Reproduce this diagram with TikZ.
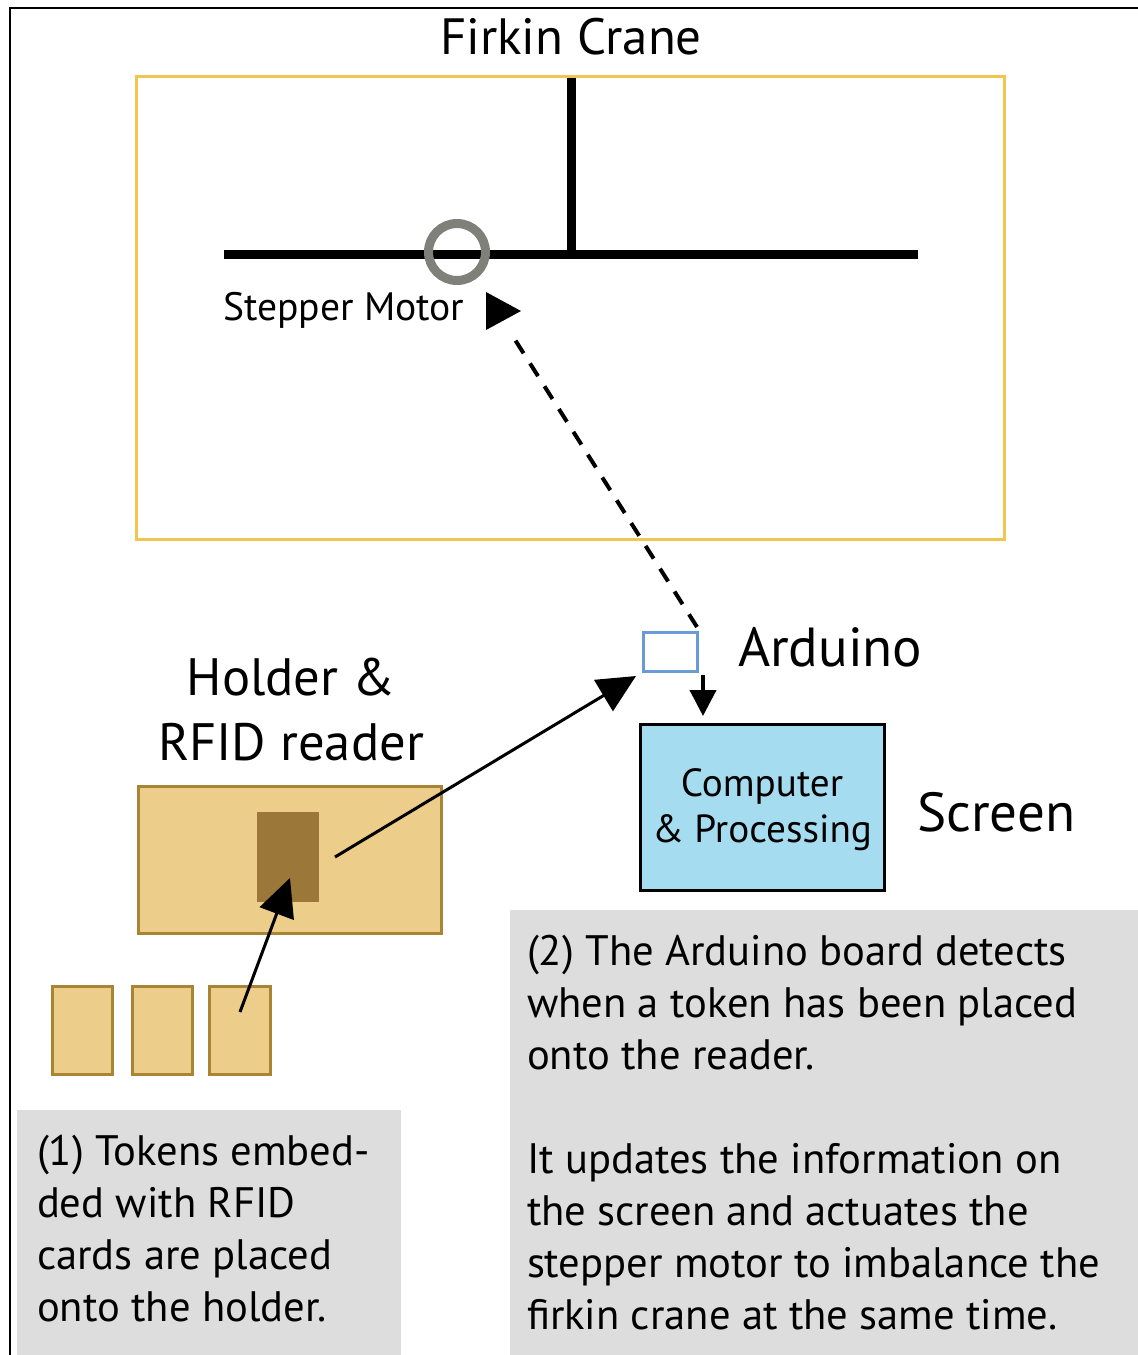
\documentclass[tikz,border=0pt]{standalone}
\usepackage{fontspec}
\setmainfont{PT Sans}
\usetikzlibrary{arrows.meta,fit}
\definecolor{craneyellow}{RGB}{240,198,80}
\definecolor{holderfill}{RGB}{237,205,138}
\definecolor{holderdraw}{RGB}{168,132,52}
\definecolor{readerfill}{RGB}{155,120,58}
\definecolor{ardblue}{RGB}{105,155,215}
\definecolor{compblue}{RGB}{166,220,240}
\definecolor{notegray}{RGB}{221,221,221}
\definecolor{motorgray}{RGB}{128,128,122}
\begin{document}
\begin{tikzpicture}[x=0.5pt,y=-0.5pt,
  plain/.style={inner sep=0pt,outer sep=0pt},
  boxfit/.style={inner sep=0pt,outer sep=0pt},
  bodytext/.style={plain,align=left,font=\fontsize{21.3}{26}\selectfont},
  bigtext/.style={plain,font=\fontsize{27.5}{32.5}\selectfont},
  solidarrow/.style={line width=1.5pt,-{Triangle[length=19pt,width=18pt]}},
  dasharrow/.style={line width=2pt,dash pattern=on 7.5pt off 6pt},
  beam/.style={line width=4.5pt}]
\useasboundingbox (0,0) rectangle (1138,1355);
% outer frame
\draw[line width=1pt] (10,1355) -- (10,8) -- (1138,8);
% title
\node[plain,font=\fontsize{25.5}{30}\selectfont] (title) at (571,37) {Firkin Crane};
% crane frame
\node[boxfit,draw=craneyellow,line width=1.5pt,fit={(136,76)(1004,539)}] (crane) {};
% beams
\draw[beam] (571,78) -- (571,250);
\draw[beam] (224,254) -- (918,254);
\node[circle,draw=motorgray,line width=4.5pt,minimum size=28.5pt,inner sep=0pt] (motor) at (457,252) {};
\node[plain,anchor=west,font=\fontsize{19.8}{22}\selectfont] (smlabel) at (223,310) {Stepper Motor};
% arduino
\node[boxfit,draw=ardblue,line width=1.5pt,fit={(643,632)(697,671)}] (arduino) {};
\node[bigtext,anchor=west] (ardlabel) at (738,647) {Arduino};
% computer
\node[boxfit,draw=black,fill=compblue,line width=1.5pt,fit={(640,724)(884,890)}] (computer) {};
\node[plain,align=center,font=\fontsize{19.6}{23}\selectfont] (comptext) at (762,810) {Computer\\\& Processing};
\node[bigtext,anchor=west] (screen) at (917,812) {Screen};
% holder
\node[plain,align=center,font=\fontsize{26.3}{32.5}\selectfont] (holderlabel) at (291,710) {Holder \&\\RFID reader};
\node[boxfit,draw=holderdraw,fill=holderfill,line width=1.5pt,fit={(138,786)(441,933)}] (holder) {};
\node[boxfit,fill=readerfill,fit={(257,812)(319,902)}] (reader) {};
% tokens
\node[boxfit,draw=holderdraw,fill=holderfill,line width=1.5pt,fit={(52,986)(112,1074)}] (tok1) {};
\node[boxfit,draw=holderdraw,fill=holderfill,line width=1.5pt,fit={(132,986)(192,1074)}] (tok2) {};
\node[boxfit,draw=holderdraw,fill=holderfill,line width=1.5pt,fit={(209,986)(270,1074)}] (tok3) {};
% note boxes
\node[boxfit,fill=notegray,fit={(17,1110)(401,1360)}] (note1) {};
\node[boxfit,fill=notegray,fit={(510,910)(1140,1360)}] (note2) {};
\node[bodytext,anchor=north west] (note1text) at (37,1135) {(1) Tokens embed-\\ded with RFID\\cards are placed\\onto the holder.};
\node[bodytext,anchor=north west] (note2text) at (527,935) {(2) The Arduino board detects\\when a token has been placed\\onto the reader.\\[26pt]It updates the information on\\the screen and actuates the\\stepper motor to imbalance the\\firkin crane at the same time.};
% connectors
\coordinate (a1s) at (335,857);
\coordinate (a1e) at (636,676);
\draw[solidarrow] (a1s) -- (a1e);
\coordinate (a2s) at (240,1012);
\coordinate (a2e) at (290,878);
\draw[solidarrow] (a2s) -- (a2e);
\coordinate (d1s) at (697,627);
\coordinate (d1e) at (512,335);
\draw[dasharrow] (d1s) -- (d1e);
\fill (486,292) -- (486,330) -- (521,311) -- cycle;
\coordinate (d2s) at (703,675);
\coordinate (d2e) at (703,716);
\draw[dasharrow,-{Triangle[length=13pt,width=13pt]}] (d2s) -- (d2e);
\end{tikzpicture}
\end{document}
